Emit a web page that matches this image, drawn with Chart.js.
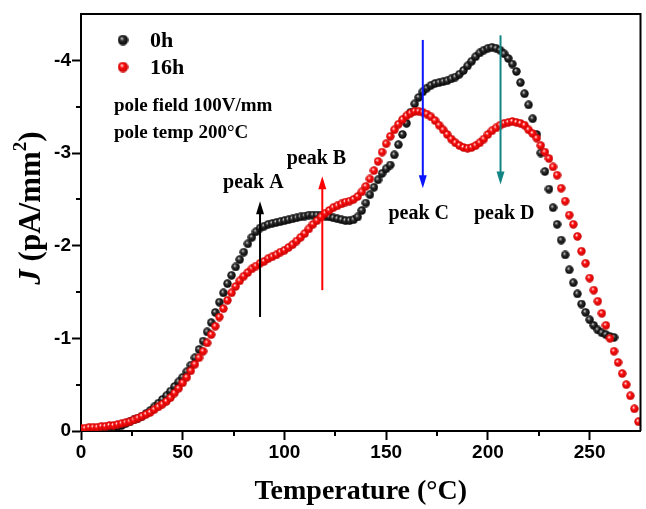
<!DOCTYPE html>
<html><head><meta charset="utf-8">
<script src="https://cdn.jsdelivr.net/npm/chart.js@4.4.1/dist/chart.umd.min.js"></script>
<style>html,body{margin:0;padding:0;background:#fff}#wrap{width:646px;height:509px}</style>
</head><body><div id="wrap"><canvas id="c" width="646" height="509"></canvas></div>
<script>
// ---- data ----
const seriesLabels = ['0h', '16h'];
const temp0h = [0,2,4,6,8,10,12,14,16,18,20,22,24,26,28,30,32,34,36,38,40,42,44,46,48,50,52,54,56,58,60,62,64,66,68,70,72,74,76,78,80,82,84,86,88,90,92,94,96,98,100,102,104,106,108,110,112,114,116,118,120,122,124,126,128,130,132,134,136,138,140,142,144,146,148,150,152,154,156,158,160,162,164,166,168,170,172,174,176,178,180,182,184,186,188,190,192,194,196,198,200,202,204,206,208,210,212,214,216,218,220,222,224,226,228,230,232,234,236,238,240,242,244,246,248,250,252,254,256,258,260,262];
const j0h = [-0.02,-0.02,-0.02,-0.02,-0.02,-0.02,-0.03,-0.03,-0.04,-0.05,-0.06,-0.08,-0.10,-0.12,-0.14,-0.16,-0.19,-0.22,-0.26,-0.30,-0.34,-0.38,-0.43,-0.48,-0.53,-0.58,-0.64,-0.71,-0.79,-0.88,-0.97,-1.07,-1.17,-1.28,-1.39,-1.49,-1.59,-1.68,-1.77,-1.85,-1.93,-2.02,-2.09,-2.15,-2.19,-2.21,-2.23,-2.24,-2.25,-2.26,-2.27,-2.28,-2.29,-2.30,-2.31,-2.32,-2.33,-2.33,-2.33,-2.33,-2.32,-2.31,-2.30,-2.29,-2.28,-2.27,-2.27,-2.28,-2.31,-2.38,-2.46,-2.55,-2.63,-2.71,-2.78,-2.83,-2.87,-2.98,-3.09,-3.20,-3.32,-3.44,-3.53,-3.60,-3.66,-3.70,-3.73,-3.75,-3.76,-3.77,-3.78,-3.80,-3.82,-3.85,-3.89,-3.94,-3.99,-4.04,-4.08,-4.11,-4.13,-4.14,-4.13,-4.11,-4.07,-4.02,-3.96,-3.88,-3.76,-3.64,-3.52,-3.37,-3.20,-3.00,-2.80,-2.61,-2.41,-2.23,-2.06,-1.90,-1.74,-1.60,-1.48,-1.37,-1.28,-1.20,-1.14,-1.09,-1.06,-1.04,-1.02,-1.01];
const temp16h = [0,2,4,6,8,10,12,14,16,18,20,22,24,26,28,30,32,34,36,38,40,42,44,46,48,50,52,54,56,58,60,62,64,66,68,70,72,74,76,78,80,82,84,86,88,90,92,94,96,98,100,102,104,106,108,110,112,114,116,118,120,122,124,126,128,130,132,134,136,138,140,142,144,146,148,150,152,154,156,158,160,162,164,166,168,170,172,174,176,178,180,182,184,186,188,190,192,194,196,198,200,202,204,206,208,210,212,214,216,218,220,222,224,226,228,230,232,234,236,238,240,242,244,246,248,250,252,254,256,258,260,262,264,266,268,270,272,274];
const j16h = [-0.03,-0.03,-0.04,-0.04,-0.04,-0.05,-0.05,-0.06,-0.06,-0.07,-0.08,-0.09,-0.10,-0.12,-0.14,-0.16,-0.18,-0.20,-0.23,-0.26,-0.29,-0.32,-0.36,-0.41,-0.46,-0.52,-0.58,-0.65,-0.72,-0.79,-0.86,-0.95,-1.04,-1.13,-1.23,-1.32,-1.41,-1.49,-1.56,-1.62,-1.67,-1.71,-1.75,-1.78,-1.81,-1.83,-1.86,-1.88,-1.90,-1.93,-1.95,-1.98,-2.01,-2.05,-2.09,-2.13,-2.18,-2.23,-2.27,-2.31,-2.35,-2.38,-2.41,-2.43,-2.45,-2.47,-2.48,-2.50,-2.53,-2.58,-2.64,-2.72,-2.81,-2.91,-3.01,-3.10,-3.18,-3.25,-3.31,-3.36,-3.40,-3.43,-3.45,-3.45,-3.44,-3.42,-3.39,-3.35,-3.30,-3.25,-3.20,-3.15,-3.11,-3.08,-3.06,-3.05,-3.06,-3.08,-3.11,-3.15,-3.20,-3.24,-3.27,-3.30,-3.32,-3.33,-3.34,-3.33,-3.32,-3.30,-3.25,-3.21,-3.16,-3.08,-3.01,-2.94,-2.85,-2.76,-2.62,-2.48,-2.33,-2.23,-2.10,-1.94,-1.81,-1.65,-1.52,-1.40,-1.27,-1.14,-1.00,-0.86,-0.74,-0.62,-0.50,-0.38,-0.24,-0.10];
const xTickValues = [0, 50, 100, 150, 200, 250];
const xMinorTicks = [25, 75, 125, 175, 225];
const yTickValues = [0, -1, -2, -3, -4];
const yMinorTicks = [-0.5, -1.5, -2.5, -3.5];
const peakNames = ['peak A', 'peak B', 'peak C', 'peak D'];
const peakArrowT = [88, 118.6, 168, 206.2];
const peakArrowFrom = [-1.23, -1.52, -4.22, -4.27];
const peakArrowTo = [-2.48, -2.75, -2.62, -2.66];
const peakLabelT = [84.7, 115.7, 166, 208];
const peakLabelJ = [-2.68, -2.94, -2.34, -2.34];
const noteLines = ['pole field 100V/mm', 'pole temp 200\u00B0C'];
const xTitle = 'Temperature (\u00B0C)';
const yTitleParts = ['J', ' (pA/mm', '2', ')'];

// ---- styles ----
const arrowColors = ['#000000', '#ff0000', '#0a14ff', '#138585'];
const SERIF = '"Liberation Serif", "Times New Roman", serif';
const SANS = '"Liberation Sans", Arial, sans-serif';

function makeBall(light, mid, dark, d) {
  const c = document.createElement('canvas');
  c.width = d; c.height = d;
  const g = c.getContext('2d');
  const grad = g.createRadialGradient(d * 0.38, d * 0.34, 0.2, d * 0.5, d * 0.5, d * 0.5);
  grad.addColorStop(0, light);
  grad.addColorStop(0.35, mid);
  grad.addColorStop(1, dark);
  g.fillStyle = grad;
  g.beginPath(); g.arc(d / 2, d / 2, d / 2 - 0.3, 0, Math.PI * 2); g.fill();
  return c;
}
const ballBlack = makeBall('#d8d8d8', '#2e2e2e', '#000000', 9);
const ballRed = makeBall('#ffffff', '#ff1010', '#c00000', 9);
const legBlack = makeBall('#d8d8d8', '#2e2e2e', '#000000', 11);
const legRed = makeBall('#ffffff', '#ff1010', '#c00000', 11);

const decor = {
  id: 'decor',
  afterDatasetsDraw(chart) {
    const {ctx, chartArea: a, scales: {x, y}} = chart;
    ctx.save();
    // arrows
    for (let i = 0; i < peakNames.length; i++) {
      const px = x.getPixelForValue(peakArrowT[i]);
      const y1 = y.getPixelForValue(peakArrowFrom[i]);
      const y2 = y.getPixelForValue(peakArrowTo[i]);
      const dir = Math.sign(y2 - y1);
      const head = 13, hw = 4;
      ctx.strokeStyle = arrowColors[i];
      ctx.fillStyle = arrowColors[i];
      ctx.lineWidth = 2;
      ctx.beginPath(); ctx.moveTo(px, y1); ctx.lineTo(px, y2 - dir * (head - 2)); ctx.stroke();
      ctx.beginPath(); ctx.moveTo(px, y2); ctx.lineTo(px - hw, y2 - dir * head); ctx.lineTo(px + hw, y2 - dir * head); ctx.closePath(); ctx.fill();
    }
    // peak labels
    ctx.fillStyle = '#000';
    ctx.font = 'bold 20px ' + SERIF;
    ctx.textAlign = 'center'; ctx.textBaseline = 'middle';
    for (let i = 0; i < peakNames.length; i++) {
      ctx.fillText(peakNames[i], x.getPixelForValue(peakLabelT[i]), y.getPixelForValue(peakLabelJ[i]));
    }
    // legend
    const legImgs = [legBlack, legRed];
    ctx.textAlign = 'left';
    ctx.font = 'bold 22px ' + SERIF;
    for (let i = 0; i < seriesLabels.length; i++) {
      const cy = a.top + 26 + i * 27;
      ctx.drawImage(legImgs[i], a.left + 42 - 5.5, cy - 5.5);
      ctx.fillText(seriesLabels[i], a.left + 69, cy + 1);
    }
    // notes
    ctx.font = 'bold 19px ' + SERIF;
    for (let i = 0; i < noteLines.length; i++) {
      ctx.fillText(noteLines[i], a.left + 33, a.top + 92 + i * 27);
    }
    ctx.restore();
  },
  afterDraw(chart) {
    const {ctx, chartArea: a, scales: {x, y}} = chart;
    ctx.save();
    ctx.strokeStyle = '#000';
    ctx.lineWidth = 2;
    ctx.beginPath();
    ctx.moveTo(a.left, a.top); ctx.lineTo(a.right, a.top); ctx.lineTo(a.right, a.bottom);
    ctx.stroke();
    ctx.beginPath();
    xMinorTicks.forEach(v => { const px = Math.round(x.getPixelForValue(v)); ctx.moveTo(px, a.bottom); ctx.lineTo(px, a.bottom + 5); });
    yMinorTicks.forEach(v => { const py = Math.round(y.getPixelForValue(v)); ctx.moveTo(a.left, py); ctx.lineTo(a.left - 5, py); });
    ctx.stroke();
    // y axis title with italic J and superscript 2
    ctx.fillStyle = '#000';
    ctx.textBaseline = 'middle';
    ctx.textAlign = 'left';
    const fonts = ['italic bold 31px ' + SERIF, 'bold 31px ' + SERIF, 'bold 19px ' + SERIF, 'bold 31px ' + SERIF];
    const shifts = [0, 0, -11, 0];
    let total = 0;
    const widths = yTitleParts.map((t, i) => { ctx.font = fonts[i]; const w = ctx.measureText(t).width; total += w; return w; });
    ctx.translate(32, 208);
    ctx.rotate(-Math.PI / 2);
    let cx = -total / 2;
    yTitleParts.forEach((t, i) => { ctx.font = fonts[i]; ctx.fillText(t, cx, shifts[i]); cx += widths[i]; });
    ctx.restore();
  }
};

new Chart(document.getElementById('c').getContext('2d'), {
  type: 'scatter',
  data: {
    datasets: [
      { label: seriesLabels[0], data: temp0h.map((t, i) => ({x: t, y: j0h[i]})), pointStyle: ballBlack, pointRadius: 4.5, showLine: false, order: 2 },
      { label: seriesLabels[1], data: temp16h.map((t, i) => ({x: t, y: j16h[i]})), pointStyle: ballRed, pointRadius: 4.5, showLine: false, order: 1 }
    ]
  },
  options: {
    responsive: false, animation: false, devicePixelRatio: 1,
    layout: {padding: {top: 14, right: 3, left: 0, bottom: 0}},
    plugins: {legend: {display: false}, tooltip: {enabled: false}},
    scales: {
      x: {
        type: 'linear', min: 0, max: 275,
        afterFit: s => { s.height = 78; },
        afterBuildTicks: s => { s.ticks = xTickValues.map(v => ({value: v})); },
        ticks: {font: {family: SANS, weight: 'bold', size: 19}, color: '#000', padding: 1, maxRotation: 0, autoSkip: false},
        grid: {drawOnChartArea: false, tickLength: 9, tickWidth: 2, tickColor: '#000'},
        border: {color: '#000', width: 2},
        title: {display: true, text: xTitle, color: '#000', font: {family: SERIF, weight: 'bold', size: 28}, padding: {top: 0, bottom: 0}}
      },
      y: {
        type: 'linear', reverse: true, min: -4.5, max: 0,
        afterFit: s => { s.width = 81; },
        afterBuildTicks: s => { s.ticks = yTickValues.map(v => ({value: v})); },
        ticks: {font: {family: SANS, weight: 'bold', size: 19}, color: '#000', padding: 1, autoSkip: false},
        grid: {drawOnChartArea: false, tickLength: 9, tickWidth: 2, tickColor: '#000'},
        border: {color: '#000', width: 2},
        title: {display: false}
      }
    }
  },
  plugins: [decor]
});
</script>
</body></html>
